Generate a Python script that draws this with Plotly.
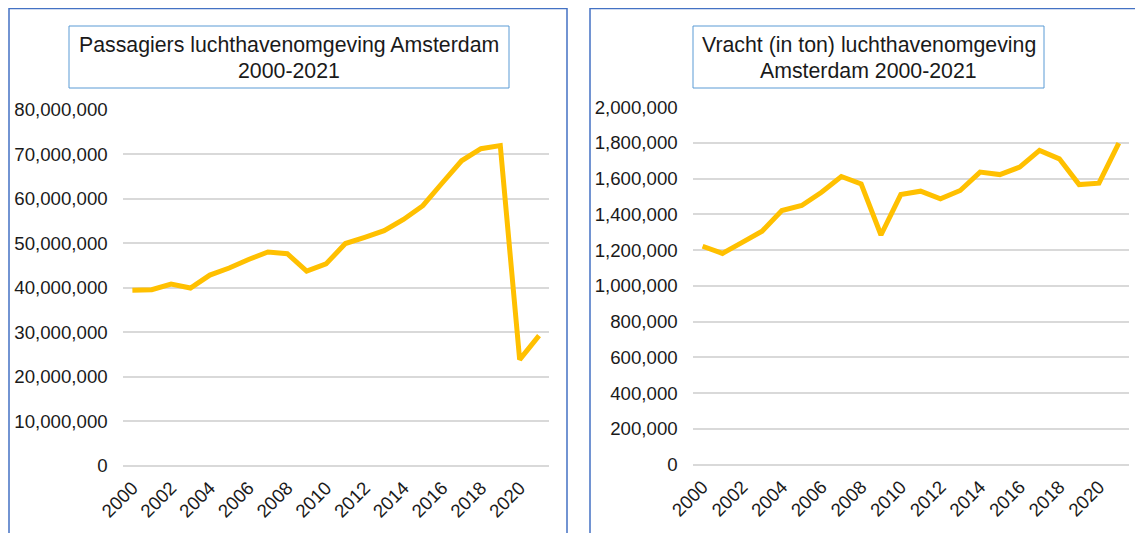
import plotly.graph_objects as go

years = list(range(2000, 2022))
passagiers = [39.4e6, 39.5e6, 40.8e6, 39.9e6, 42.8e6, 44.4e6, 46.3e6, 48.0e6, 47.6e6, 43.7e6,
              45.3e6, 49.9e6, 51.3e6, 52.8e6, 55.3e6, 58.4e6, 63.5e6, 68.5e6, 71.2e6, 71.9e6,
              23.8e6, 29.2e6]
vracht = [1221000, 1181000, 1243000, 1305000, 1421000, 1449000, 1523000, 1611000, 1570000, 1284000,
          1510000, 1529000, 1486000, 1533000, 1636000, 1622000, 1664000, 1757000, 1710000, 1566000,
          1574000, 1798000]
title_left = ["Passagiers luchthavenomgeving Amsterdam", "2000-2021"]
title_right = ["Vracht (in ton) luchthavenomgeving", "Amsterdam 2000-2021"]

# page has an 8px body margin; figure is sized to fill the rest of the window
OFF = 8
W, H = 1143 - OFF, 533 - OFF
def px(x):
    return (x - OFF) / W
def py(y):
    return 1 - (y - OFF) / H

FONT = "Liberation Sans, Arial, sans-serif"
LINE = "#FFC000"
GRID = "#D9D9D9"
TXT = "#1a1a1a"

fig = go.Figure()
fig.add_trace(go.Scatter(x=years, y=passagiers, mode="lines", line=dict(color=LINE, width=5),
                         xaxis="x", yaxis="y", showlegend=False, hoverinfo="skip"))
fig.add_trace(go.Scatter(x=years, y=vracht, mode="lines", line=dict(color=LINE, width=5),
                         xaxis="x2", yaxis="y2", showlegend=False, hoverinfo="skip"))

xcommon = dict(range=[1999.5, 2021.5], tickmode="linear", tick0=2000, dtick=2, tickangle=-45,
               showgrid=False, zeroline=False, showline=False, ticks="", automargin=False,
               ticklabelstandoff=7,
               tickfont=dict(family=FONT, size=18.67, color=TXT), fixedrange=True)
ycommon = dict(showgrid=True, gridcolor=GRID, gridwidth=1.5, zeroline=True, zerolinecolor=GRID,
               zerolinewidth=1.5, showline=False, ticks="", tickformat=",d", automargin=False,
               tickfont=dict(family=FONT, size=18.67, color=TXT), ticklabelstandoff=14, fixedrange=True)

fig.update_layout(
    width=W, height=H, margin=dict(l=0, r=0, t=0, b=0, autoexpand=False),
    paper_bgcolor="white", plot_bgcolor="white",
    xaxis=dict(domain=[px(122.7), px(548.7)], anchor="y", **xcommon),
    yaxis=dict(domain=[py(465.5), py(109.6)], anchor="x", range=[0, 80e6], dtick=10e6, **ycommon),
    xaxis2=dict(domain=[px(692.7), px(1128.7)], anchor="y2", **xcommon),
    yaxis2=dict(domain=[py(464.5), py(107)], anchor="x2", range=[0, 2e6], dtick=200000, **ycommon),
)

shapes = []
# panel borders
for x0, x1 in [(9, 567), (590, 1170)]:
    shapes.append(dict(type="rect", xref="paper", yref="paper", x0=px(x0), x1=px(x1), y0=py(8.5), y1=py(560),
                       line=dict(color="#4472C4", width=1.5), fillcolor="rgba(0,0,0,0)", layer="above"))
# title boxes
for x0, x1 in [(69, 509), (693, 1044)]:
    shapes.append(dict(type="rect", xref="paper", yref="paper", x0=px(x0), x1=px(x1), y0=py(26), y1=py(88),
                       line=dict(color="#5B9BD5", width=1), fillcolor="rgba(0,0,0,0)", layer="above"))
fig.update_layout(shapes=shapes)

annotations = []
for cx, lines in [(289, title_left), (868.5, title_right)]:
    for i, t in enumerate(lines):
        annotations.append(dict(text=t, x=px(cx), y=py(45 + i * 25.5), xref="paper", yref="paper",
                                xanchor="center", yanchor="middle", showarrow=False,
                                font=dict(family=FONT, size=21.3, color=TXT)))
fig.update_layout(annotations=annotations)

fig.write_html("out.html")
